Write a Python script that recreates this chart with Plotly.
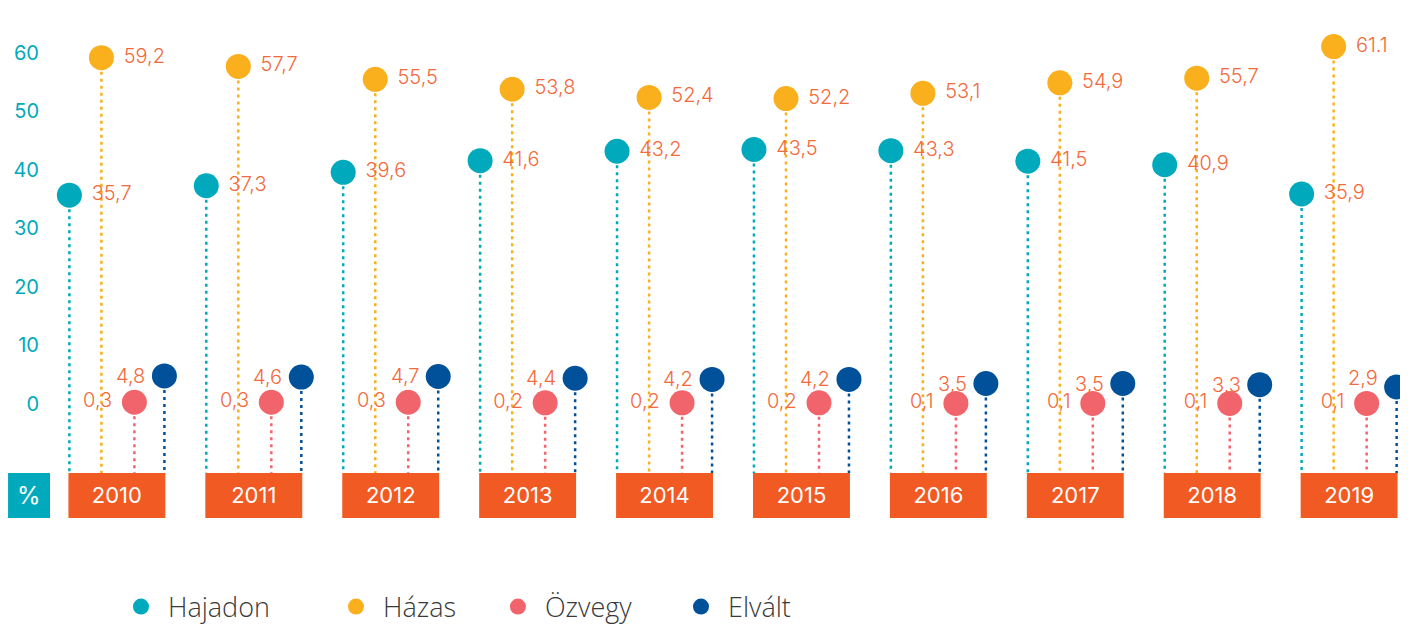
import plotly.graph_objects as go

years = ["2010", "2011", "2012", "2013", "2014", "2015", "2016", "2017", "2018", "2019"]
hajadon = [35.7, 37.3, 39.6, 41.6, 43.2, 43.5, 43.3, 41.5, 40.9, 35.9]
hazas = [59.2, 57.7, 55.5, 53.8, 52.4, 52.2, 53.1, 54.9, 55.7, 61.1]
ozvegy = [0.3, 0.3, 0.3, 0.2, 0.2, 0.2, 0.1, 0.1, 0.1, 0.1]
elvalt = [4.8, 4.6, 4.7, 4.4, 4.2, 4.2, 3.5, 3.5, 3.3, 2.9]
hazas_labels = ["59,2", "57,7", "55,5", "53,8", "52,4", "52,2", "53,1", "54,9", "55,7", "61.1"]
y_ticks = [0, 10, 20, 30, 40, 50, 60]

def comma(vals):
    return [f"{v:.1f}".replace(".", ",") for v in vals]

LINE_BOTTOM = -11.79
BOX_BOTTOM = -19.49
LABEL_COLOR = "#F26A3C"
FONT = "Inter"

# name, values, labels, colour, x offset within group, text position, legend id, legend x
series = [
    ("Hajadon", hajadon, comma(hajadon), "#00A9BC", -0.347, "middle right", "legend", 0.0436),
    ("Házas", hazas, hazas_labels, "#F9B01C", -0.113, "middle right", "legend2", 0.2025),
    ("Özvegy", ozvegy, comma(ozvegy), "#F1646C", 0.128, "middle left", "legend3", 0.3222),
    ("Elvált", elvalt, comma(elvalt), "#00509A", 0.347, None, "legend4", 0.4575),
]
elvalt_label_shift = [0, 0, 0, 0, 0, 0, 0, 0, 0, 9]

idx = list(range(len(years)))
fig = go.Figure()

# year boxes
fig.add_trace(go.Bar(
    x=idx, y=[LINE_BOTTOM - BOX_BOTTOM] * len(years), base=BOX_BOTTOM,
    width=0.708, marker=dict(color="#F15A22", line=dict(width=0)),
    text=years, textposition="inside", insidetextanchor="middle",
    textfont=dict(color="white", size=22, family=FONT),
    showlegend=False, hoverinfo="skip", cliponaxis=False,
))

# dotted stems
for name, vals, labels, color, off, tpos, lg, lx in series:
    xs, ys = [], []
    for i, v in zip(idx, vals):
        xs += [i + off, i + off, None]
        ys += [v, LINE_BOTTOM, None]
    fig.add_trace(go.Scatter(
        x=xs, y=ys, mode="lines",
        line=dict(color=color, width=2.5, dash="3px,4px"),
        showlegend=False, hoverinfo="skip", cliponaxis=False,
    ))

# dots with value labels
legend_layouts = {}
for name, vals, labels, color, off, tpos, lg, lx in series:
    xs = [i + off for i in idx]
    common = dict(x=xs, y=vals, name=name, legend=lg,
                  marker=dict(color=color, size=25, line=dict(width=0)),
                  cliponaxis=False)
    if tpos:
        fig.add_trace(go.Scatter(
            mode="markers+text",
            text=[" " + t + " " for t in labels], textposition=tpos,
            textfont=dict(color=LABEL_COLOR, size=20, family=FONT, weight=300),
            **common,
        ))
    else:
        fig.add_trace(go.Scatter(mode="markers", **common))
        for x, v, t, s in zip(xs, vals, labels, elvalt_label_shift):
            fig.add_annotation(x=x, y=v, text=t, showarrow=False,
                               xanchor="right", xshift=-17, yshift=s,
                               font=dict(color=LABEL_COLOR, size=20, family=FONT, weight=300))
    legend_layouts[lg] = dict(
        orientation="h", xref="paper", yref="paper",
        x=lx, y=-0.1475, xanchor="left", yanchor="middle",
        font=dict(size=27, color="#3A3A3A", family="Open Sans", weight=300),
        itemwidth=44, itemsizing="trace", bgcolor="rgba(0,0,0,0)",
    )

fig.add_shape(type="rect", xref="paper", yref="y",
              x0=-0.0347, x1=-0.0037, y0=BOX_BOTTOM, y1=LINE_BOTTOM,
              fillcolor="#00A9BC", line=dict(width=0), layer="below")
fig.add_annotation(xref="paper", yref="y", x=-0.0192, y=(BOX_BOTTOM + LINE_BOTTOM) / 2,
                   xanchor="center", yanchor="middle",
                   text="%", showarrow=False,
                   font=dict(color="white", size=24, family=FONT))

# page body has an 8px margin, so the figure is 8px smaller than the window
fig.update_layout(
    width=1400, height=620,
    margin=dict(l=47, r=0, t=0, b=98, autoexpand=False),
    paper_bgcolor="white", plot_bgcolor="white",
    xaxis=dict(range=[-0.452, 9.43], showgrid=False, zeroline=False,
               showticklabels=False, showline=False, fixedrange=True),
    yaxis=dict(range=[-21.54, 67.69], tickvals=y_ticks,
               ticktext=[str(t) for t in y_ticks],
               showgrid=False, zeroline=False, showline=False,
               tickfont=dict(color="#00A9BC", size=20, family=FONT),
               ticklabelstandoff=15, fixedrange=True),
    showlegend=True,
    **legend_layouts,
)

fig.write_html("out.html")
